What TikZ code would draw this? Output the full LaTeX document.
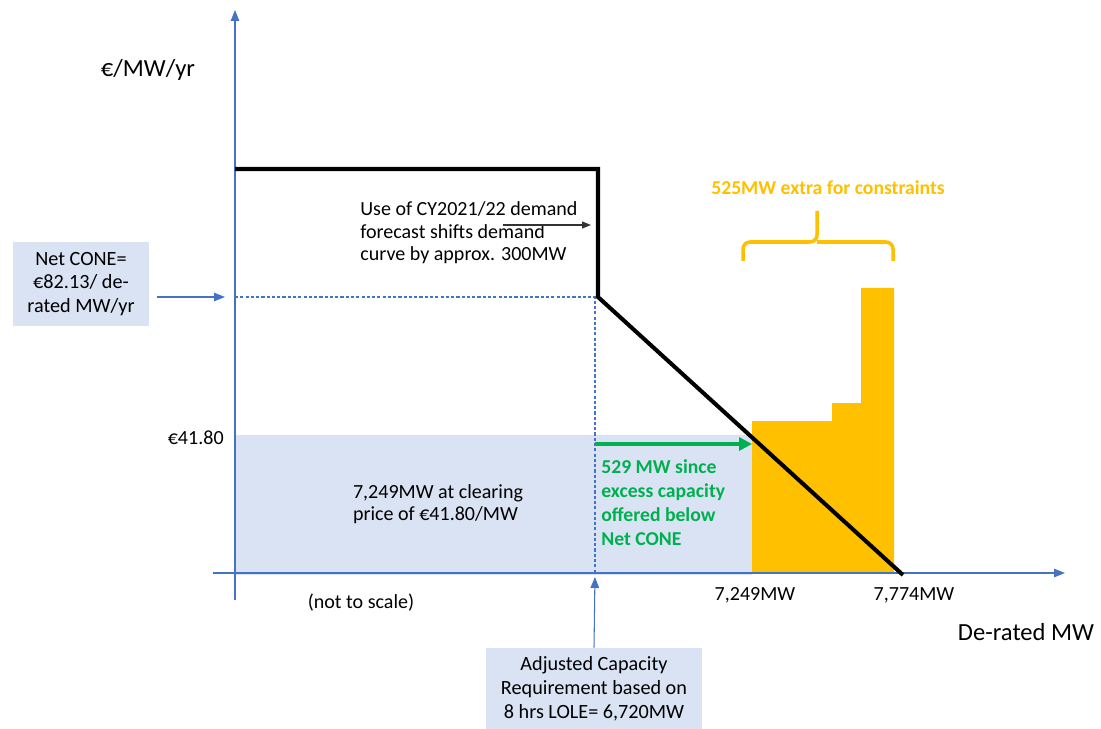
\documentclass[tikz,border=0pt]{standalone}
\usepackage{fontspec}
\setmainfont{Carlito}
\usetikzlibrary{positioning,arrows.meta,calc}
\definecolor{axisblue}{HTML}{4472C4}
\definecolor{paleblue}{HTML}{DAE3F3}
\definecolor{amber}{HTML}{FFC000}
\definecolor{leafgreen}{HTML}{00B050}
\tikzset{
  axis/.style={draw=axisblue, line width=0.6pt, -{Triangle[length=2.2mm,width=1.7mm]}},
  guide/.style={draw=axisblue, line width=0.75pt, dash pattern=on 1.8pt off 1.2pt},
  demand/.style={draw=black, line width=2.3pt},
  shiftar/.style={draw=black!80, line width=0.6pt, -{Triangle[length=1.8mm,width=1.4mm]}},
  gain/.style={draw=leafgreen, line width=2.2pt, -{Triangle[length=2.6mm,width=2.6mm]}},
  infobox/.style={rectangle, fill=paleblue, align=center, inner sep=0pt,
                  font=\fontsize{11.5}{13.6}\selectfont},
  txt/.style={inner sep=0pt, align=left, font=\fontsize{11.4}{12.8}\selectfont},
  bigtxt/.style={inner sep=0pt, font=\fontsize{14}{16}\selectfont},
  gtxt/.style={inner sep=0pt, align=left, text=leafgreen,
               font=\fontsize{11.2}{13.6}\selectfont\bfseries},
}

\begin{document}
\begin{tikzpicture}[x=0.02cm, y=-0.02cm]
  \useasboundingbox (0,0) rectangle (1101,729);

  % cleared capacity and the extra offers
  \fill[paleblue] (235,435) rectangle (752,575);
  \fill[amber] (752,573) -- (752,421) -- (832,421) -- (832,403) -- (861,403)
               -- (861,288) -- (894,288) -- (894,573) -- cycle;

  \coordinate (origin) at (235,573);
  \coordinate (cone)   at (235,297);
  \coordinate (req)    at (595,573);
  \coordinate (kink)   at (598,297);

  \draw[guide] (cone) -- (595,297) -- (req);

  \draw[axis] (235,600) -- (235,10);
  \draw[axis] (213,573) -- (1065,573);

  \draw[demand, line join=miter] (235,169) -- (598,169) -- (kink) -- (903,575);

  \node[bigtxt] (yname) at (148,70) {€/MW/yr};
  \node[bigtxt] (xname) at (1026,632) {De-rated MW};

  \node[infobox, minimum width=2.72cm, minimum height=1.68cm] (netcone) at (81,284)
       {Net CONE=\\€82.13/ de-\\rated MW/yr};
  \draw[axis, shorten <=0.16cm, shorten >=0.2cm] (netcone.east |- cone) -- (cone);

  \node[txt, anchor=east] (price) at (224,438) {€41.80};
  \node[txt] (cleared) at (438,504) {7,249MW at clearing\\price of €41.80/MW};
  \node[txt] (scale) at (361,603) {(not to scale)};
  \node[txt] (clearmw) at (755,595) {7,249MW};
  \node[txt] (maxmw) at (914,595) {7,774MW};

  \node[txt, anchor=west] (forecast) at (360,233)
       {Use of CY2021/22 demand\\forecast shifts demand\\curve by approx. 300MW};
  \coordinate (shiftstart) at (503,225);
  \coordinate (shiftend)   at (591,225);
  \draw[shiftar] (shiftstart) -- (shiftend);

  \coordinate (gainstart) at (595,444);
  \coordinate (gainend)   at (752,444);
  \draw[gain] (gainstart) -- (gainend);
  \node[gtxt, anchor=west] (excess) at (601,503)
       {529 MW since\\excess capacity\\offered below\\Net CONE};

  \node[infobox, minimum width=4.32cm, minimum height=1.62cm] (acr) at (594,688.5)
       {Adjusted Capacity\\Requirement based on\\8 hrs LOLE= 6,720MW};
  \draw[axis, shorten >=0.08cm] (acr.north) -- (req);

  \draw[amber, line width=2pt, rounded corners=4pt]
    (743,261) -- (743,242) -- (817,242) -- (817,211);
  \draw[amber, line width=2pt, rounded corners=4pt]
    (893,261) -- (893,242) -- (817,242);
  \node[inner sep=0pt, text=amber, font=\fontsize{11.2}{13}\selectfont\bfseries]
       (extra) at (828,188) {525MW extra for constraints};
\end{tikzpicture}
\end{document}
